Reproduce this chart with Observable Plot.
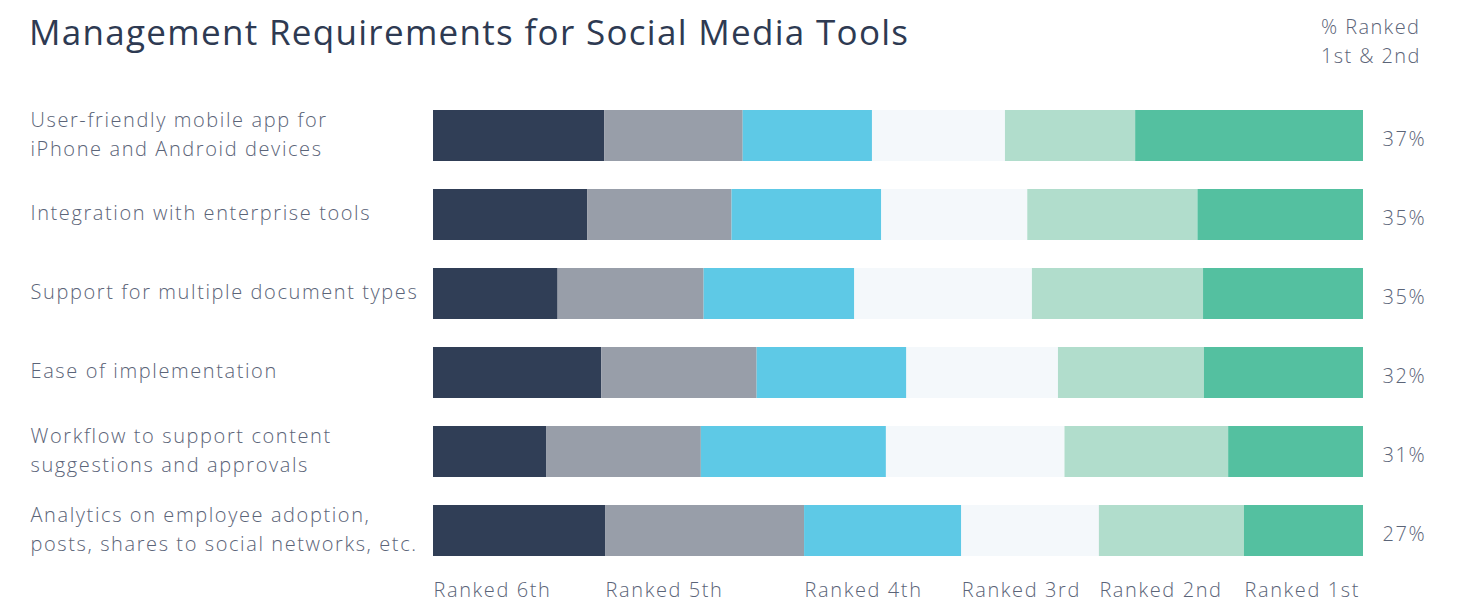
<!DOCTYPE html>
<html>
<head>
<meta charset="utf-8">
<script src="https://cdn.jsdelivr.net/npm/d3@7"></script>
<script src="https://cdn.jsdelivr.net/npm/@observablehq/plot@0.6"></script>
<style>
  html, body { margin: 0; padding: 0; background: #fff; }
  #wrap { position: relative; width: 1457px; height: 604px; overflow: hidden; font-family: "Open Sans", sans-serif; }
  #header { position: absolute; left: 0; top: 0; width: 1457px; height: 90px; z-index: 2; }
  #title { position: absolute; left: 29px; top: 8px; font-family: "Open Sans", sans-serif; font-size: 35px; font-weight: 500; color: #2e3a52; letter-spacing: 1.3px; white-space: nowrap; }
  #note { position: absolute; left: 1321px; top: 12px; font-size: 20px; line-height: 29px; color: #5b6478; font-weight: 300; letter-spacing: 1.4px; }
  #chart { position: absolute; left: 0; top: 0; }
  #chart svg { display: block; }
</style>
</head>
<body>
<div id="wrap">
  <div id="chart"></div>
  <div id="header">
    <div id="title">Management Requirements for Social Media Tools</div>
    <div id="note">% Ranked<br>1st &amp; 2nd</div>
  </div>
</div>
<script>
const items = [
  "User-friendly mobile app for\niPhone and Android devices",
  "Integration with enterprise tools",
  "Support for multiple document types",
  "Ease of implementation",
  "Workflow to support content\nsuggestions and approvals",
  "Analytics on employee adoption,\nposts, shares to social networks, etc."
];
const rankLabels = ["Ranked 6th", "Ranked 5th", "Ranked 4th", "Ranked 3rd", "Ranked 2nd", "Ranked 1st"];
const rank6 = [18.4, 16.6, 13.4, 18.1, 12.2, 18.5];
const rank5 = [14.9, 15.5, 15.7, 16.7, 16.6, 21.4];
const rank4 = [13.9, 16.1, 16.2, 16.1, 19.9, 16.9];
const rank3 = [14.3, 15.7, 19.1, 16.3, 19.2, 14.8];
const rank2 = [14.0, 18.3, 18.4, 15.7, 17.6, 15.6];
const rank1 = [24.5, 17.8, 17.2, 17.1, 14.5, 12.8];
const topTwo = ["37%", "35%", "35%", "32%", "31%", "27%"];
const colors = ["#303e56", "#989ea9", "#5ec9e6", "#f4f8fb", "#b1ddcc", "#54c0a0"];

const series = [rank6, rank5, rank4, rank3, rank2, rank1];
const rows = [];
items.forEach((item, i) => {
  series.forEach((s, k) => rows.push({item, rank: rankLabels[k], value: s[i]}));
});

// bottom labels placed at segment starts of the last row
const last = items.length - 1;
let acc = 0;
const bottom = rankLabels.map((r, k) => { const x = acc; acc += series[k][last]; return {rank: r, x}; });

const textColor = "#5b6478";
const chart = Plot.plot({
  width: 1457,
  height: 604,
  marginLeft: 433,
  marginRight: 94,
  marginTop: 96,
  marginBottom: 34,
  style: {fontFamily: "Open Sans, sans-serif", fontSize: "20px", fontWeight: 300, letterSpacing: "1.6px", color: textColor, background: "#fff"},
  x: {domain: [0, 100], axis: null},
  y: {domain: items, axis: null, paddingInner: 0.354, paddingOuter: 0.177},
  color: {domain: rankLabels, range: colors},
  marks: [
    Plot.barX(rows, Plot.stackX({x: "value", y: "item", fill: "rank", order: null})),
    Plot.text(items, {y: d => d, text: d => d, frameAnchor: "left", dx: -403, dy: -4, textAnchor: "start", lineHeight: 1.45, fontSize: 20, fill: textColor}),
    Plot.text(items, {y: d => d, x: () => 100, text: (d, i) => topTwo[i], dx: 19, dy: 4, textAnchor: "start", fontSize: 20, fill: textColor}),
    Plot.text(bottom, {x: "x", text: "rank", frameAnchor: "bottom", lineAnchor: "middle", dy: 20, textAnchor: "start", fontSize: 20, fill: textColor})
  ]
});
document.getElementById("chart").appendChild(chart);
</script>
</body>
</html>
